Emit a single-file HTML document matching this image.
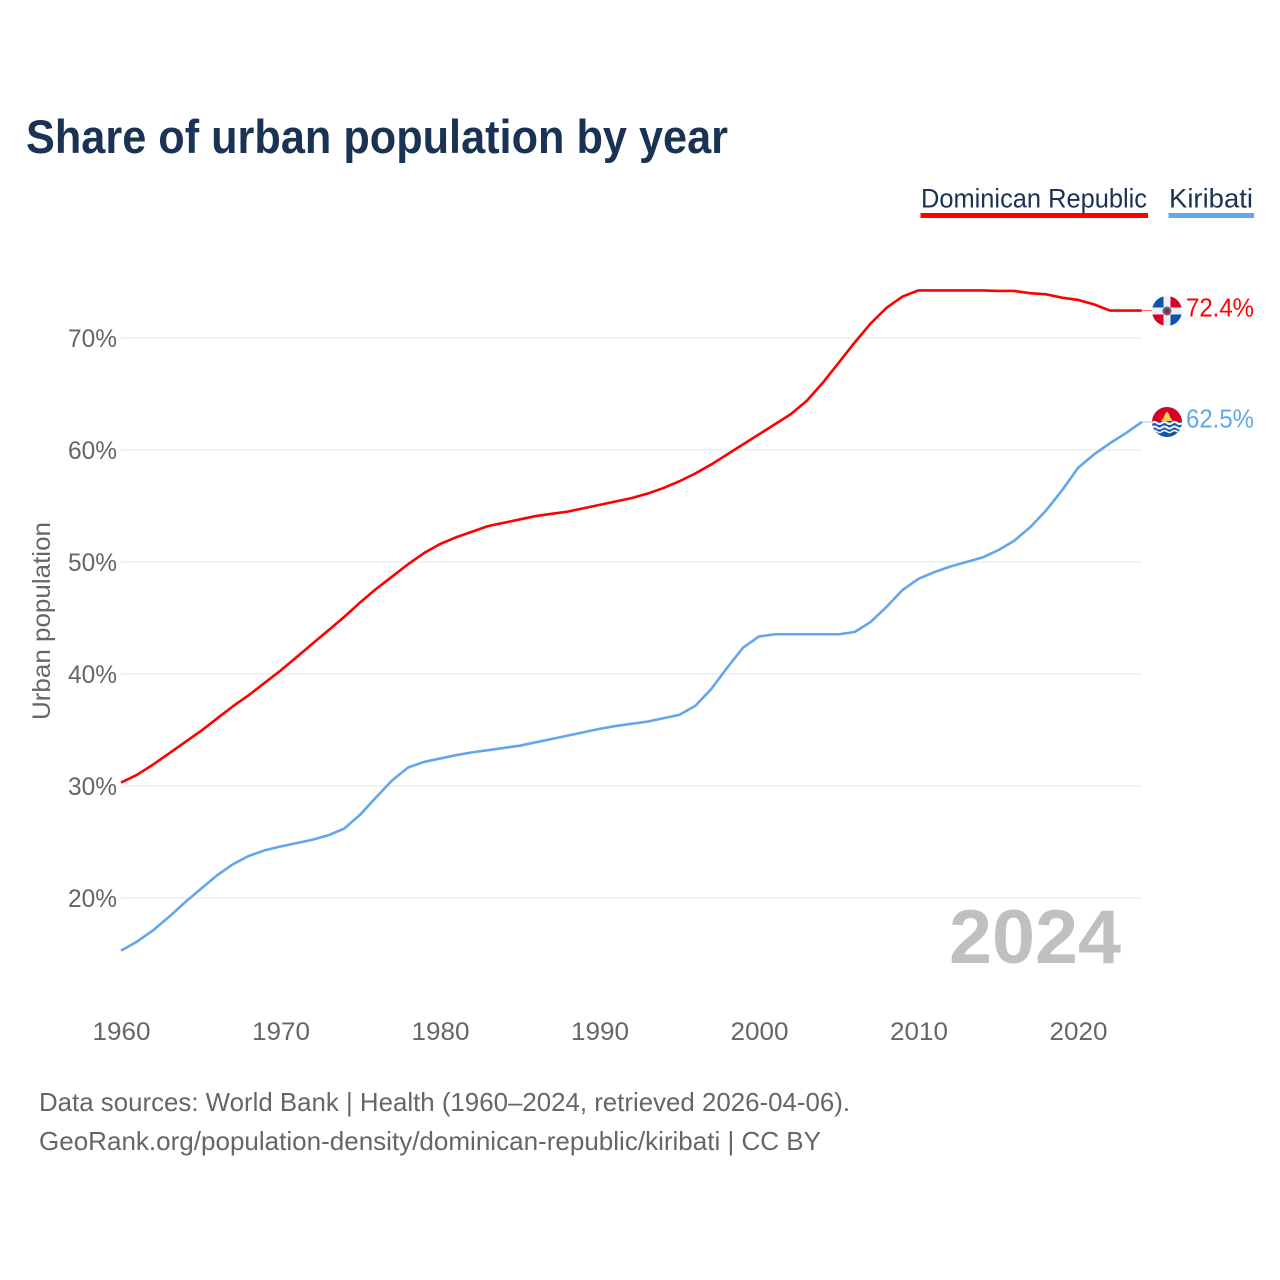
<!DOCTYPE html>
<html lang="en"><head><meta charset="utf-8"><title>Share of urban population by year</title>
<style>
html,body{margin:0;padding:0;background:#fff}
svg{display:block}
text{font-family:"Liberation Sans",sans-serif}
</style></head>
<body>
<svg id="chart" width="1280" height="1280" viewBox="0 0 1280 1280" xmlns="http://www.w3.org/2000/svg">
<rect width="1280" height="1280" fill="#fff"/>
<text x="26" y="153" font-size="47" font-weight="700" fill="#1a3354" textLength="702" lengthAdjust="spacingAndGlyphs">Share of urban population by year</text>
<text x="921" y="207.5" font-size="26.5" fill="#1a3354" textLength="226" lengthAdjust="spacingAndGlyphs">Dominican Republic</text>
<rect x="920.5" y="213" width="227.5" height="5" fill="#ff0000"/>
<text x="1169" y="207.5" font-size="26.5" fill="#1a3354" textLength="84" lengthAdjust="spacingAndGlyphs">Kiribati</text>
<rect x="1168.5" y="213" width="85.5" height="5" fill="#63a6ec"/>
<g id="grid"></g>
<g id="yticks"></g>
<g id="xticks"></g>
<text transform="translate(50,621) rotate(-90)" text-anchor="middle" font-size="25" fill="#666" textLength="198" lengthAdjust="spacingAndGlyphs">Urban population</text>
<text x="949" y="963" font-size="76" font-weight="700" fill="#c0c0c0" textLength="172" lengthAdjust="spacingAndGlyphs">2024</text>
<g id="series"></g>

<g>
<clipPath id="clipDo"><circle cx="1167" cy="311" r="15"/></clipPath>
<g clip-path="url(#clipDo)">
<rect x="1152" y="296" width="30" height="30" fill="#eef0f3"/>
<rect x="1152" y="296" width="11.5" height="11.5" fill="#0f52ad"/>
<rect x="1170.5" y="296" width="11.5" height="11.5" fill="#d80027"/>
<rect x="1152" y="314.5" width="11.5" height="11.5" fill="#d80027"/>
<rect x="1170.5" y="314.5" width="11.5" height="11.5" fill="#0f52ad"/>
<circle cx="1167" cy="311" r="4.5" fill="#496e8c"/>
<rect x="1165" y="309" width="4" height="4" fill="#d80027"/>
</g></g>

<g>
<clipPath id="clipKi"><circle cx="1167" cy="422" r="15"/></clipPath>
<g clip-path="url(#clipKi)">
<rect x="1152" y="407" width="30" height="16" fill="#d80027"/>
<rect x="1152" y="422" width="30" height="15" fill="#0f52ad"/>
<path d="M1161 421 L1164 417 L1165 414 L1167 411.5 L1169 414 L1170 417 L1173 421 Z" fill="#ffd04d"/>
<path d="M1152 423 q2.5 -2 5 0 t5 0 t5 0 t5 0 t5 0 t5 0" fill="none" stroke="#f0f0f0" stroke-width="2.2"/>
<path d="M1152 427.5 q2.5 -2 5 0 t5 0 t5 0 t5 0 t5 0 t5 0" fill="none" stroke="#f0f0f0" stroke-width="2.2"/>
<path d="M1152 431.5 q2.5 -2 5 0 t5 0 t5 0 t5 0 t5 0 t5 0" fill="none" stroke="#f0f0f0" stroke-width="1.6"/>
</g></g>

<text x="1186" y="316.5" font-size="26" fill="#ff0000" textLength="68" lengthAdjust="spacingAndGlyphs">72.4%</text>
<text x="1186" y="427.5" font-size="26" fill="#63a6ec" textLength="68" lengthAdjust="spacingAndGlyphs">62.5%</text>

<text x="39" y="1111" font-size="26" fill="#666" textLength="811" lengthAdjust="spacingAndGlyphs">Data sources: World Bank | Health (1960–2024, retrieved 2026-04-06).</text>
<text x="39" y="1150" font-size="26" fill="#666" textLength="782" lengthAdjust="spacingAndGlyphs">GeoRank.org/population-density/dominican-republic/kiribati | CC BY</text>
</svg>
<script>
const startYear = 1960;
const dominicanRepublic = [30.3,31.0,31.9,32.9,33.9,34.9,36.0,37.1,38.1,39.2,40.3,41.5,42.7,43.9,45.1,46.4,47.6,48.7,49.8,50.8,51.6,52.2,52.7,53.2,53.5,53.8,54.1,54.3,54.5,54.8,55.1,55.4,55.7,56.1,56.6,57.2,57.9,58.7,59.6,60.5,61.4,62.3,63.2,64.4,66.0,67.8,69.6,71.3,72.7,73.7,74.25,74.25,74.25,74.25,74.25,74.2,74.2,74.0,73.9,73.6,73.4,73.0,72.45,72.45,72.45];
const kiribati = [15.3,16.1,17.1,18.3,19.6,20.8,22.0,23.0,23.75,24.25,24.6,24.9,25.2,25.6,26.2,27.45,29.0,30.5,31.65,32.15,32.45,32.75,33.0,33.2,33.4,33.6,33.9,34.2,34.5,34.8,35.1,35.35,35.55,35.75,36.05,36.35,37.15,38.65,40.55,42.35,43.35,43.55,43.55,43.55,43.55,43.55,43.75,44.65,46.0,47.5,48.5,49.1,49.6,50.0,50.4,51.05,51.9,53.1,54.6,56.4,58.4,59.6,60.6,61.5,62.5];
const yTicks = [20,30,40,50,60,70];
const xTicks = [1960,1970,1980,1990,2000,2010,2020];

const NS = 'http://www.w3.org/2000/svg';
function xScale(year){ return 121 + (year - 1960) * 15.95; }
function yScale(v){ return 898 - (v - 20) * 11.2; }

const grid = document.getElementById('grid');
const yG = document.getElementById('yticks');
const xG = document.getElementById('xticks');
const seriesG = document.getElementById('series');

yTicks.forEach(function(t){
  const l = document.createElementNS(NS,'line');
  
  
  l.setAttribute('x1', 121);
  l.setAttribute('x2', 1142);
  l.setAttribute('y1', yScale(t));
  l.setAttribute('y2', yScale(t));
  l.setAttribute('stroke', '#e6e6e6');
  l.setAttribute('stroke-width', '1');
  grid.appendChild(l);
  const e = document.createElementNS(NS,'text');
  
  
  e.setAttribute('x', 68);
  e.setAttribute('y', yScale(t) + 9);
  e.setAttribute('font-size', '25');
  e.setAttribute('fill', '#666');
  e.setAttribute('textLength', '49');
  e.setAttribute('lengthAdjust', 'spacingAndGlyphs');
  e.textContent = t + '%';
  yG.appendChild(e);
});

xTicks.forEach(function(t){
  const e = document.createElementNS(NS,'text');
  
  
  e.setAttribute('x', xScale(t) - 28.5);
  e.setAttribute('y', 1040);
  e.setAttribute('font-size', '25');
  e.setAttribute('fill', '#666');
  e.setAttribute('textLength', '58');
  e.setAttribute('lengthAdjust', 'spacingAndGlyphs');
  e.textContent = t;
  xG.appendChild(e);
});

function drawSeries(values, color, name){
  const pts = values.map(function(v,i){ return xScale(startYear + i).toFixed(2) + ',' + yScale(v).toFixed(2); });
  const last = values[values.length - 1];
  const lead = document.createElementNS(NS,'line');
  
  
  lead.setAttribute('x1', xScale(startYear + values.length - 1));
  lead.setAttribute('x2', 1152);
  lead.setAttribute('y1', yScale(last));
  lead.setAttribute('y2', yScale(last));
  lead.setAttribute('stroke', color);
  lead.setAttribute('stroke-width', '1');
  lead.setAttribute('opacity', '0.6');
  seriesG.appendChild(lead);
  const p = document.createElementNS(NS,'polyline');
  
  
  p.setAttribute('points', pts.join(' '));
  p.setAttribute('fill', 'none');
  p.setAttribute('stroke', color);
  p.setAttribute('stroke-width', '2.6');
  p.setAttribute('stroke-linejoin', 'round');
  seriesG.appendChild(p);
}
drawSeries(dominicanRepublic, '#ff0000', 'dominican-republic');
drawSeries(kiribati, '#63a6ec', 'kiribati');
</script>
</body></html>
